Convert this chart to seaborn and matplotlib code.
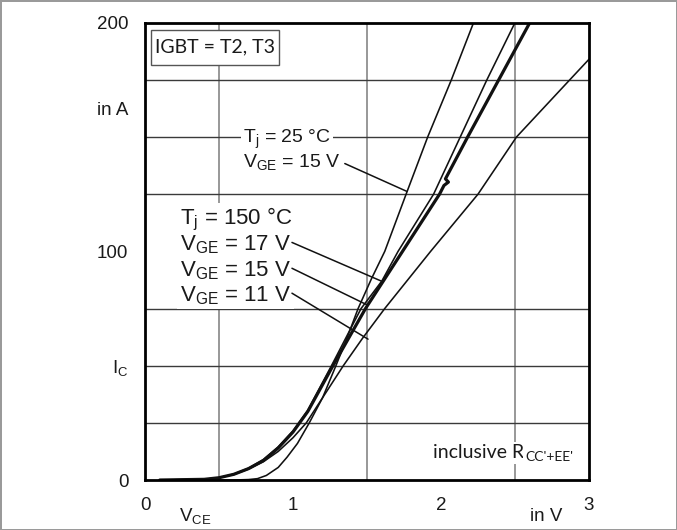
import numpy as np
import pandas as pd
import matplotlib
matplotlib.use('Agg')
from matplotlib import pyplot as plt
from matplotlib.patches import Rectangle
import seaborn as sns

# output characteristic IGBT, I_C over V_CE
# Tj = 150 °C, VGE = 15 V (thick curve)
v_150_15 = [0.10, 0.40, 0.50, 0.60, 0.70, 0.80, 0.90, 1.00, 1.10, 1.27, 1.49, 1.74,
            1.99, 2.02, 2.05, 2.03, 2.18, 2.39, 2.60]
i_150_15 = [0.0, 0.3, 1.0, 2.5, 5.0, 8.5, 14.0, 21.0, 30.0, 50.0, 75.0, 100.0,
            125.0, 128.8, 130.3, 131.7, 150.0, 175.0, 200.0]
# Tj = 150 °C, VGE = 17 V
v_150_17 = [0.10, 0.40, 0.50, 0.60, 0.70, 0.80, 0.90, 1.00, 1.10, 1.26, 1.46, 1.60,
            1.71, 1.95, 2.13, 2.31, 2.50]
i_150_17 = [0.0, 0.3, 1.0, 2.6, 5.2, 9.0, 14.5, 21.5, 30.5, 50.0, 75.0, 87.0,
            100.0, 125.0, 150.0, 175.0, 200.0]
# Tj = 150 °C, VGE = 11 V
v_150_11 = [0.10, 0.40, 0.50, 0.60, 0.70, 0.80, 0.90, 1.00, 1.09, 1.20, 1.34, 1.47,
            1.62, 1.93, 2.25, 2.51, 2.87, 3.00]
i_150_11 = [0.0, 0.3, 1.0, 2.4, 4.8, 8.0, 12.5, 18.5, 25.0, 36.0, 50.0, 62.0,
            75.0, 100.0, 125.0, 150.0, 175.0, 184.0]
# Tj = 25 °C, VGE = 15 V
v_25_15 = [0.10, 0.60, 0.70, 0.76, 0.82, 0.90, 0.96, 1.03, 1.11, 1.20, 1.29, 1.37,
           1.44, 1.53, 1.62, 1.77, 1.91, 2.07, 2.22]
i_25_15 = [0.0, 0.0, 0.2, 0.6, 2.0, 5.5, 10.0, 16.0, 25.0, 36.0, 50.0, 63.0,
           75.0, 88.0, 100.0, 126.0, 150.0, 175.0, 200.0]

x_ticks = [0, 1, 2, 3]
y_ticks = [0, 100, 200]

sns.set_theme(style="white")
plt.rcParams['font.family'] = ['Liberation Sans', 'DejaVu Sans']
plt.rcParams['mathtext.fontset'] = 'custom'
plt.rcParams['mathtext.rm'] = 'Liberation Sans'
plt.rcParams['mathtext.it'] = 'Liberation Sans'

fig = plt.figure(figsize=(6.77, 5.30), dpi=100)
fig.patch.set_edgecolor('#9a9a9a')
fig.patch.set_linewidth(1.0)
ax = fig.add_axes([0.2142, 0.0943, 0.6558, 0.8629])

curves = [(v_25_15, i_25_15, 1.15), (v_150_17, i_150_17, 1.15),
          (v_150_11, i_150_11, 1.15), (v_150_15, i_150_15, 2.3)]
for v, i, lw in curves:
    sns.lineplot(x=v, y=i, ax=ax, color='#111111', linewidth=lw, sort=False,
                 estimator=None, zorder=2)

ax.set_xlim(0, 3)
ax.set_ylim(0, 200)
ax.set_xticks(np.arange(0, 3.01, 0.5), minor=True)
ax.set_yticks(np.arange(0, 201, 25), minor=True)
ax.set_xticks(x_ticks)
ax.set_xticklabels([str(t) for t in x_ticks])
ax.set_yticks(y_ticks)
ax.set_yticklabels([str(t) for t in y_ticks])
ax.tick_params(which='both', length=0, labelsize=13.5, colors='#1a1a1a')
ax.tick_params(axis='x', pad=12)
ax.tick_params(axis='y', pad=12)
ax.grid(False)
ax.grid(True, which='minor', axis='x', color='#7c7c7c', linewidth=1.1, zorder=0.5)
ax.grid(True, which='minor', axis='y', color='#3a3a3a', linewidth=1.0, zorder=0.5)
ax.set_axisbelow(True)
for s in ax.spines.values():
    s.set_color('black')
    s.set_linewidth(2.0)
ax.set_xlabel('')
ax.set_ylabel('')

# axis names in place of tick labels
ax.annotate('in A', xy=(0, 161.6), xycoords=('axes fraction', 'data'),
            xytext=(-12, 0), textcoords='offset points', ha='right', va='center',
            fontsize=13.5, color='#1a1a1a')
ax.annotate(r'$\mathrm{I_C}$', xy=(0, 49), xycoords=('axes fraction', 'data'),
            xytext=(-12, 0), textcoords='offset points', ha='right', va='center',
            fontsize=13.5, color='#1a1a1a')
ax.annotate(r'$\mathrm{V_{CE}}$', xy=(0.34, 0), xycoords=('data', 'axes fraction'),
            xytext=(0, -26), textcoords='offset points', ha='center', va='center',
            fontsize=13.5, color='#1a1a1a')
ax.annotate('in V', xy=(2.71, 0), xycoords=('data', 'axes fraction'),
            xytext=(0, -26), textcoords='offset points', ha='center', va='center',
            fontsize=13.5, color='#1a1a1a')

white = dict(boxstyle='square,pad=0.12', facecolor='white', edgecolor='none')

# IGBT box
ax.add_patch(Rectangle((0.0135, 0.908), 0.289, 0.077, transform=ax.transAxes,
                       facecolor='white', edgecolor='#555555', linewidth=1.0, zorder=5))
ax.text(0.158, 0.9465, 'IGBT = T2, T3', transform=ax.transAxes, fontsize=14,
        family=['Lato', 'DejaVu Sans'], ha='center', va='center', color='#1a1a1a',
        zorder=6)

# Tj = 25 °C label
ax.text(0.662, 147.6, r'$\mathrm{T_j}$ = 25 °C', fontsize=14, va='baseline',
        color='#1a1a1a', bbox=white, zorder=3)
ax.text(0.662, 137.1, r'$\mathrm{V_{GE}}$ = 15 V', fontsize=14, va='baseline',
        color='#1a1a1a', bbox=white, zorder=3)
ax.plot([1.35, 1.77], [138.4, 126.2], color='#111111', linewidth=1.1, zorder=4)

# Tj = 150 °C labels
ax.text(0.236, 111.8, r'$\mathrm{T_j}$ = 150 °C', fontsize=16, va='baseline',
        color='#1a1a1a', bbox=white, zorder=3)
lower = [('17', 100.4, 103.9, 1.60, 86.9),
         ('15', 89.1, 92.6, 1.507, 76.4),
         ('11', 78.2, 81.7, 1.507, 61.6)]
for vge, yb, y0, x1, y1 in lower:
    ax.text(0.236, yb, r'$\mathrm{V_{GE}}$ = ' + vge + ' V', fontsize=16,
            va='baseline', color='#1a1a1a', bbox=white, zorder=3)
    ax.plot([0.993, x1], [y0, y1], color='#111111', linewidth=1.1, zorder=4)

# inclusive R label
t = ax.text(1.947, 9.5, 'inclusive R', fontsize=14, family=['Lato', 'DejaVu Sans'],
            va='baseline', color='#1a1a1a', bbox=white, zorder=3)
ax.annotate("CC'+EE'", xy=(1, 0), xycoords=t, xytext=(0.5, -1), textcoords='offset points',
            fontsize=10, family=['Lato', 'DejaVu Sans'], va='bottom', ha='left',
            color='#1a1a1a', bbox=white, zorder=3)

fig.savefig('out.png', dpi=100)
